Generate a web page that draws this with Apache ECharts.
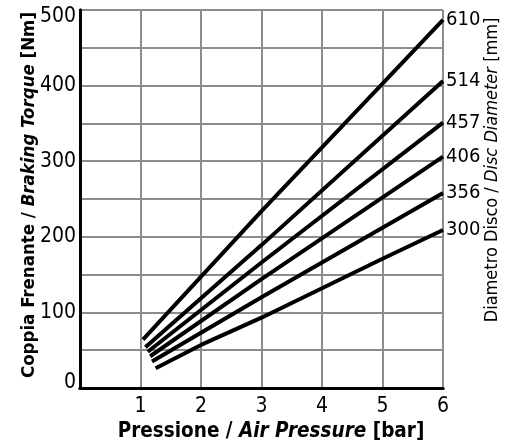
<!DOCTYPE html>
<html>
<head>
<meta charset="utf-8">
<script src="https://cdn.jsdelivr.net/npm/echarts@6/dist/echarts.min.js"></script>
<style>html,body{margin:0;padding:0;background:#fff}#c{width:513px;height:446px}</style>
</head>
<body>
<div id="c"></div>
<script>
const discNames = ['610','514','457','406','356','300'];
const px610 = [1.04, 3, 6],       ty610 = [64, 234, 487];
const px514 = [1.08, 3, 6],       ty514 = [54, 189, 406];
const px457 = [1.12, 3, 6],       ty457 = [48, 166, 351];
const px406 = [1.16, 3, 6],       ty406 = [42, 144, 306];
const px356 = [1.19, 3, 6],       ty356 = [35, 120, 258];
const px300 = [1.25, 2, 3, 4, 5, 6], ty300 = [26, 57, 93, 132, 171, 209];
const xTicks = [1, 2, 3, 4, 5, 6];
const yTicks = [0, 100, 200, 300, 400, 500];

const FONT = "'DejaVu Sans Condensed', 'DejaVu Sans', sans-serif";
const pairs = [[px610,ty610],[px514,ty514],[px457,ty457],[px406,ty406],[px356,ty356],[px300,ty300]];
const series = pairs.map((p, i) => ({
  type: 'line',
  name: discNames[i],
  data: p[0].map((x, j) => [x, p[1][j]]),
  showSymbol: false,
  symbol: 'none',
  lineStyle: { color: '#000', width: 4 },
  endLabel: { show: true, formatter: '{a}', color: '#000', fontFamily: FONT, fontSize: 20, distance: 3 },
  z: 5
}));

const chart = echarts.init(document.getElementById('c'));
chart.setOption({
  animation: false,
  grid: { left: 80, right: 70, top: 10, bottom: 58, show: false },
  xAxis: [{
    type: 'value', min: 0, max: 6, interval: 1,
    axisLine: { show: true, onZero: false, lineStyle: { color: '#000', width: 3 } },
    axisTick: { show: false },
    splitLine: { show: true, lineStyle: { color: '#8c8c8c', width: 2 } },
    axisLabel: { color: '#000', fontFamily: FONT, fontSize: 21, margin: 8,
      formatter: v => xTicks.includes(v) ? String(v) : '' }
  }, {
    type: 'value', min: 0, max: 6, interval: 1, position: 'top',
    axisLine: { show: true, lineStyle: { color: '#000', width: 3 } },
    axisTick: { show: false }, axisLabel: { show: false }, splitLine: { show: false }
  }],
  yAxis: [{
    type: 'value', min: 0, max: 500, interval: 50,
    axisLine: { show: true, onZero: false, lineStyle: { color: '#000', width: 3 } },
    axisTick: { show: false },
    splitLine: { show: true, lineStyle: { color: '#8c8c8c', width: 2 } },
    axisLabel: { color: '#000', fontFamily: FONT, fontSize: 21, margin: 4,
      formatter: v => {
        if (!yTicks.includes(v)) return '';
        if (v === 500) return '{t|' + v + '}';
        if (v === 0) return '{b|' + v + '}';
        return String(v);
      },
      rich: {
        t: { fontFamily: FONT, fontSize: 21, color: '#000', padding: [14, 0, 0, 0] },
        b: { fontFamily: FONT, fontSize: 21, color: '#000', padding: [0, 0, 10, 0] }
      }
    }
  }, {
    type: 'value', min: 0, max: 500, interval: 50, position: 'right',
    axisLine: { show: true, lineStyle: { color: '#000', width: 3 } },
    axisTick: { show: false }, axisLabel: { show: false }, splitLine: { show: false }
  }],
  series: series,
  graphic: [
    {
      type: 'text', x: 29, y: 195, rotation: Math.PI / 2,
      style: {
        text: '{b|Coppia Frenante / }{bi|Braking Torque}{b| [Nm]}',
        align: 'center', verticalAlign: 'middle',
        rich: {
          b: { fontFamily: FONT, fontWeight: 'bold', fontSize: 18.5, fill: '#000' },
          bi: { fontFamily: FONT, fontWeight: 'bold', fontStyle: 'italic', fontSize: 18.5, fill: '#000' }
        }
      }
    },
    {
      type: 'text', x: 271, y: 432,
      style: {
        text: '{b|Pressione / }{bi|Air Pressure}{b| [bar]}',
        align: 'center', verticalAlign: 'middle',
        rich: {
          b: { fontFamily: FONT, fontWeight: 'bold', fontSize: 20.5, fill: '#000' },
          bi: { fontFamily: FONT, fontWeight: 'bold', fontStyle: 'italic', fontSize: 20.5, fill: '#000' }
        }
      }
    },
    {
      type: 'text', x: 492, y: 170, rotation: Math.PI / 2,
      style: {
        text: '{n|Diametro Disco / }{i|Disc Diameter}{n| [mm]}',
        align: 'center', verticalAlign: 'middle',
        rich: {
          n: { fontFamily: FONT, fontSize: 18, fill: '#000' },
          i: { fontFamily: FONT, fontStyle: 'italic', fontSize: 18, fill: '#000' }
        }
      }
    }
  ]
});
</script>
</body>
</html>
